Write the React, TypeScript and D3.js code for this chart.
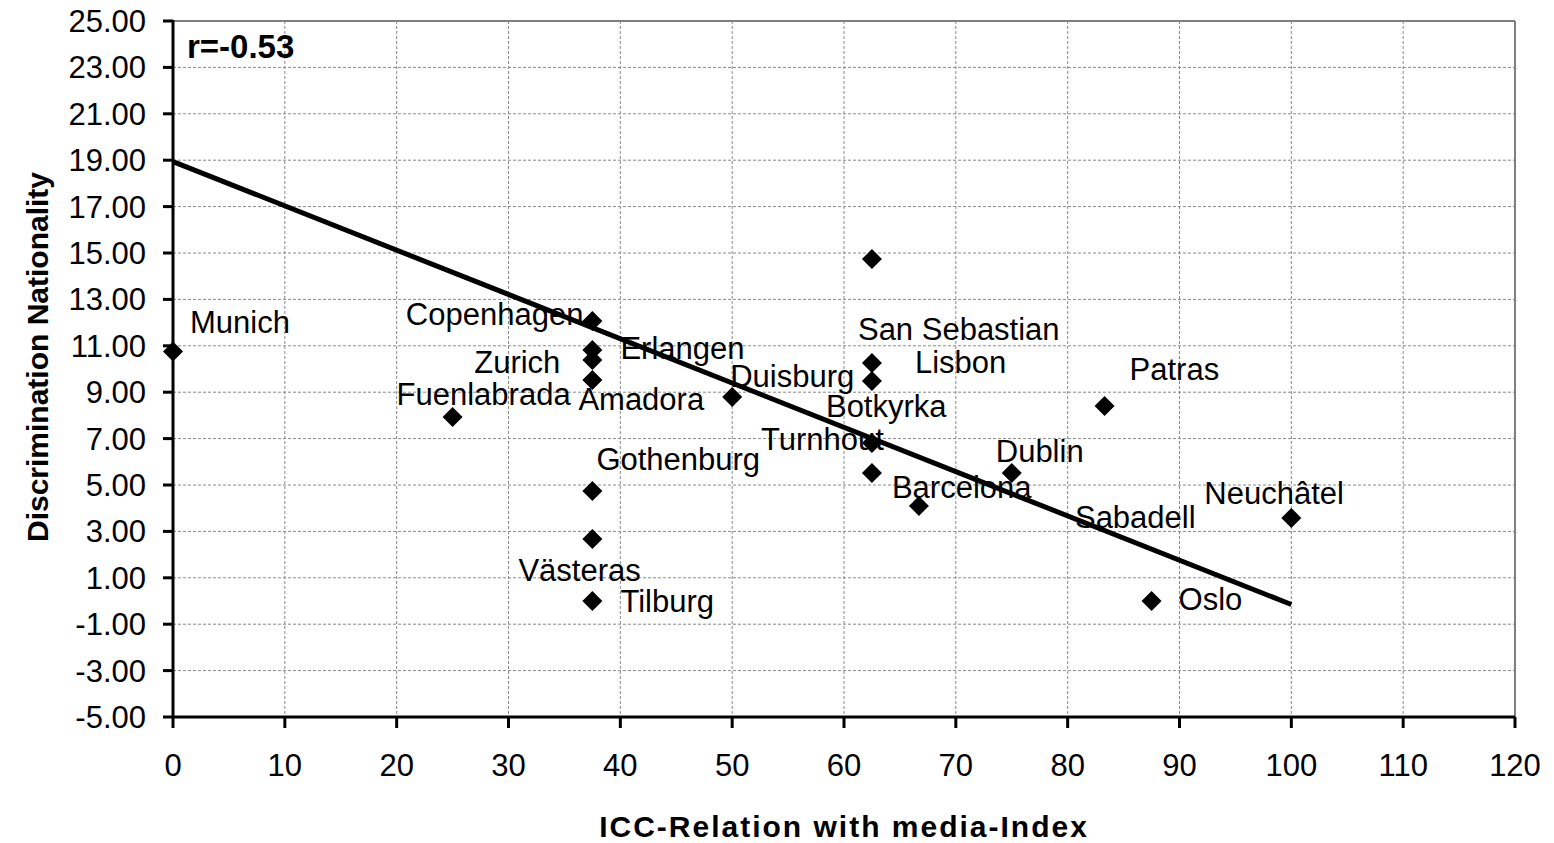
import React from 'react';
import * as d3 from 'd3';

// data
const cities = ['Munich', 'Fuenlabrada', 'Copenhagen', 'Erlangen', 'Zurich', 'Amadora', 'Gothenburg', 'Västeras', 'Tilburg', 'Duisburg',
    'Sabadell', 'San Sebastian', 'Lisbon', 'Botkyrka', 'Turnhout', 'Barcelona', 'Dublin', 'Patras', 'Oslo', 'Neuchâtel'];
const iccMedia = [0, 25, 37.5, 37.5, 37.5, 37.5, 37.5, 37.5, 37.5, 50,
    62.5, 62.5, 62.5, 62.5, 62.5, 66.7, 75, 83.3, 87.5, 100];
const discrimination = [10.75, 7.93, 12.07, 10.82, 10.39, 9.53, 4.74, 2.67, 0, 8.79,
    14.74, 10.26, 9.48, 6.81, 5.52, 4.1, 5.52, 8.41, 0, 3.58];
const trendX = [0, 100];
const trendY = [18.94, -0.15];
const xTicks = [0, 10, 20, 30, 40, 50, 60, 70, 80, 90, 100, 110, 120];
const yTicks = [25, 23, 21, 19, 17, 15, 13, 11, 9, 7, 5, 3, 1, -1, -3, -5];
const rLabel = 'r=-0.53';

// where each data label sits relative to its marker (px)
const labelOffsets = {
    'Munich': [17, -19, 'start'],
    'Fuenlabrada': [-56, -12, 'start'],
    'Copenhagen': [-9, 4, 'end'],
    'Erlangen': [28, 9, 'start'],
    'Zurich': [-32, 13, 'end'],
    'Amadora': [-14, 30, 'start'],
    'Gothenburg': [4, -21, 'start'],
    'Västeras': [-74, 42, 'start'],
    'Tilburg': [28, 11, 'start'],
    'Duisburg': [-2, -10, 'start'],
    'Sabadell': [203, 269, 'start'],
    'San Sebastian': [-14, -23, 'start'],
    'Lisbon': [43, -8, 'start'],
    'Botkyrka': [-46, -26, 'start'],
    'Turnhout': [-111, -23, 'start'],
    'Barcelona': [-27, -8, 'start'],
    'Dublin': [-16, -11, 'start'],
    'Patras': [25, -26, 'start'],
    'Oslo': [27, 9, 'start'],
    'Neuchâtel': [-87, -14, 'start']
};

const W = 1554, H = 843;
const left = 173, right = 1515, top = 21, bottom = 717;
const font = 'Arial, "Liberation Sans", sans-serif';

export default function App() {
    const x = d3.scaleLinear().domain([0, 120]).range([left, right]);
    const y = d3.scaleLinear().domain([-5, 25]).range([bottom, top]);
    const diamond = d3.symbol().type(d3.symbolSquare).size(200)();
    const trend = d3.line<number>()
        .x(d => x(trendX[d]))
        .y(d => y(trendY[d]));

    return (
        <svg width={W} height={H} style={{position: 'absolute', left: 0, top: 0, background: '#fff'}}
             fontFamily={font}>
            {/* grid */}
            <g stroke="#8a8a8a" strokeWidth="1" strokeDasharray="3,2">
                {yTicks.filter(t => t > -5 && t < 25).map(t =>
                    <line key={'gy' + t} x1={left} x2={right} y1={y(t)} y2={y(t)}/>)}
                {xTicks.filter(t => t > 0 && t < 120).map(t =>
                    <line key={'gx' + t} x1={x(t)} x2={x(t)} y1={top} y2={bottom}/>)}
            </g>
            <line x1={left} x2={right} y1={top} y2={top} stroke="#808080" strokeWidth="2"/>
            <line x1={right} x2={right} y1={top} y2={bottom} stroke="#808080" strokeWidth="2"/>

            {/* trend line */}
            <path d={trend([0, 1]) || ''} fill="none" stroke="#000" strokeWidth="5"/>

            {/* axes */}
            <g stroke="#000" strokeWidth="3">
                <line x1={left} x2={left} y1={top - 1} y2={bottom + 1}/>
                <line x1={left} x2={right} y1={bottom} y2={bottom}/>
                {yTicks.map(t => <line key={'ty' + t} x1={left - 10} x2={left} y1={y(t)} y2={y(t)}/>)}
                {xTicks.map(t => <line key={'tx' + t} x1={x(t)} x2={x(t)} y1={bottom} y2={bottom + 11}/>)}
            </g>
            <g fontSize="31" fill="#000">
                {yTicks.map(t =>
                    <text key={'ly' + t} x={left - 27} y={y(t) + 11} textAnchor="end">{t.toFixed(2)}</text>)}
                {xTicks.map(t =>
                    <text key={'lx' + t} x={x(t)} y={776} textAnchor="middle">{t}</text>)}
            </g>

            {/* markers */}
            {cities.map((c, i) =>
                <path key={'m' + c} d={diamond || ''} fill="#000"
                      transform={`translate(${x(iccMedia[i])},${y(discrimination[i])}) rotate(45)`}/>)}

            {/* data labels */}
            <g fontSize="31" fill="#000">
                {cities.map((c, i) => {
                    const o = labelOffsets[c];
                    return <text key={'t' + c} x={x(iccMedia[i]) + o[0]} y={y(discrimination[i]) + o[1]}
                                 textAnchor={o[2]}>{c}</text>;
                })}
            </g>

            <text x={187} y={58} fontSize="33" fontWeight="bold">{rLabel}</text>

            <text x={(left + right) / 2} y={837} fontSize="30" fontWeight="bold" textAnchor="middle"
                  letterSpacing="2">ICC-Relation with media-Index</text>
            <text transform={`translate(48,357) rotate(-90)`} fontSize="30" fontWeight="bold"
                  textAnchor="middle">Discrimination Nationality</text>
        </svg>
    );
}
